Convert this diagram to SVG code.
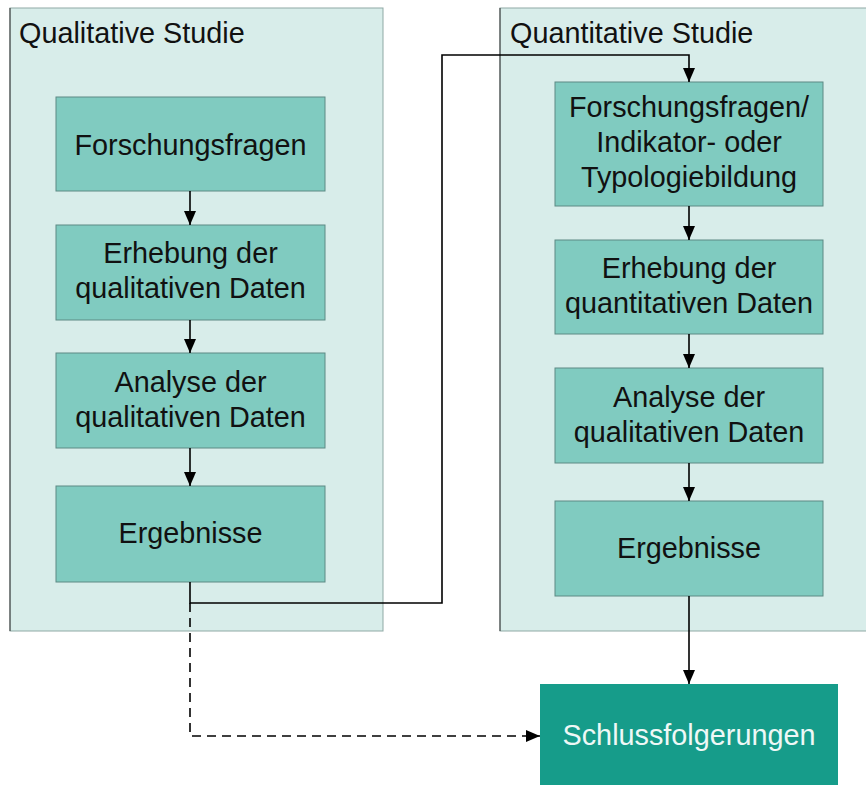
<svg xmlns="http://www.w3.org/2000/svg" width="866" height="785" viewBox="0 0 866 785">
<style>
.panel{fill:#d8edea;stroke:#8fa9a5;stroke-width:1}
.box{fill:#80cbc0;stroke:#5d8a84;stroke-width:1}
.final{fill:#169c8a}
.t{font-family:"Liberation Sans",Arial,sans-serif;font-size:28.8px;fill:#111}
.c{text-anchor:middle}
.w{fill:#eef8f6}
.ln{fill:none;stroke:#000;stroke-width:1.6}
.dash{stroke-dasharray:9 6}
</style>
<defs>
<marker id="ah" markerWidth="14" markerHeight="14" viewBox="0 0 14 14" refX="14" refY="7" orient="auto" markerUnits="userSpaceOnUse">
<path d="M0,1 L14,7 L0,13 Z" fill="#000"/>
</marker>
</defs>
<rect width="866" height="785" fill="#fff"/>
<g id="qual-panel">
<rect class="panel" x="10" y="8" width="373" height="623"/>
<line x1="10" y1="8" x2="10" y2="631" stroke="#333" stroke-width="1"/>
<text class="t" x="19" y="43">Qualitative Studie</text>
</g>
<g id="quant-panel">
<rect class="panel" x="500" y="8" width="372" height="623"/>
<line x1="500" y1="8" x2="500" y2="631" stroke="#333" stroke-width="1"/>
<text class="t" x="510" y="43">Quantitative Studie</text>
</g>
<g id="l1"><rect class="box" x="56" y="97" width="269" height="94"/><text class="t c" x="190.5" y="155">Forschungsfragen</text></g>
<g id="l2"><rect class="box" x="56" y="225" width="269" height="95"/><text class="t c" x="190.5" y="263">Erhebung der</text><text class="t c" x="190.5" y="298">qualitativen Daten</text></g>
<g id="l3"><rect class="box" x="56" y="353" width="269" height="95"/><text class="t c" x="190.5" y="392">Analyse der</text><text class="t c" x="190.5" y="427">qualitativen Daten</text></g>
<g id="l4"><rect class="box" x="56" y="486" width="269" height="96"/><text class="t c" x="190.5" y="543">Ergebnisse</text></g>
<g id="r1"><rect class="box" x="555" y="82" width="268" height="124"/><text class="t c" x="689" y="117">Forschungsfragen/</text><text class="t c" x="689" y="152">Indikator- oder</text><text class="t c" x="689" y="187">Typologiebildung</text></g>
<g id="r2"><rect class="box" x="555" y="240" width="268" height="94"/><text class="t c" x="689" y="278">Erhebung der</text><text class="t c" x="689" y="313">quantitativen Daten</text></g>
<g id="r3"><rect class="box" x="555" y="368" width="268" height="95"/><text class="t c" x="689" y="407">Analyse der</text><text class="t c" x="689" y="442">qualitativen Daten</text></g>
<g id="r4"><rect class="box" x="555" y="501" width="268" height="95"/><text class="t c" x="689" y="558">Ergebnisse</text></g>
<g id="final"><rect class="final" x="540" y="684" width="298" height="106"/><text class="t c w" x="689" y="745">Schlussfolgerungen</text></g>
<g id="connectors">
<line class="ln" x1="190" y1="191" x2="190" y2="225" marker-end="url(#ah)"/>
<line class="ln" x1="190" y1="320" x2="190" y2="353" marker-end="url(#ah)"/>
<line class="ln" x1="190" y1="448" x2="190" y2="486" marker-end="url(#ah)"/>
<line class="ln" x1="689" y1="206" x2="689" y2="240" marker-end="url(#ah)"/>
<line class="ln" x1="689" y1="334" x2="689" y2="368" marker-end="url(#ah)"/>
<line class="ln" x1="689" y1="463" x2="689" y2="501" marker-end="url(#ah)"/>
<line class="ln" x1="689" y1="596" x2="689" y2="684" marker-end="url(#ah)"/>
<path class="ln" d="M190,582 V603 H442 V55 H689 V82" marker-end="url(#ah)"/>
<path class="ln dash" d="M190,603 V736 H540" marker-end="url(#ah)"/>
</g>
</svg>
